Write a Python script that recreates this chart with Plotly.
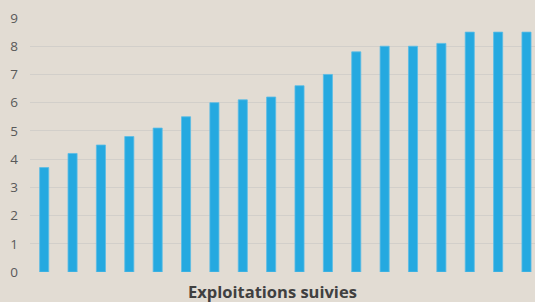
import plotly.graph_objects as go

categories = [f"E{i+1}" for i in range(18)]
values = [3.7, 4.2, 4.5, 4.8, 5.1, 5.5, 6.0, 6.1, 6.2, 6.6, 7.0, 7.8, 8.0, 8.0, 8.1, 8.5, 8.5, 8.5]
y_ticks = list(range(0, 10))
x_title = "Exploitations suivies"

bg = "#e2dcd3"

fig = go.Figure(go.Bar(
    x=categories, y=values,
    width=0.32,
    marker=dict(color="#25a9e0", line=dict(color="#5bbde6", width=0.8)),
    hoverinfo="skip",
))

fig.update_layout(
    width=535, height=302,
    margin=dict(l=30, r=0, t=18, b=30),
    paper_bgcolor=bg, plot_bgcolor=bg,
    showlegend=False,
    bargap=0.68,
    font=dict(family="Open Sans, Segoe UI, sans-serif", color="#595959", size=13),
    xaxis=dict(
        type="category",
        range=[-0.5, 17.3],
        showticklabels=False, showgrid=False, zeroline=False, showline=False, ticks="",
        fixedrange=True,
    ),
    yaxis=dict(
        range=[0, 9], tickvals=y_ticks, ticktext=[str(v) for v in y_ticks],
        showgrid=True, gridcolor="#d2cfca", gridwidth=1.3,
        zeroline=False, showline=False, ticks="",
        ticklabelstandoff=11,
        tickfont=dict(size=13.5, color="#595959"),
        fixedrange=True,
    ),
    annotations=[dict(
        text="<b>" + x_title + "</b>", xref="paper", yref="paper",
        x=(272 - 30) / 505, y=0, yshift=-19, xanchor="center", yanchor="middle",
        showarrow=False, font=dict(size=16.5, color="#404040", family="Open Sans, sans-serif"),
    )],
)

fig.write_html(
    "out.html",
    config={"displayModeBar": False},
    post_script="document.body.style.margin='0';document.body.style.overflow='hidden';document.body.style.background='" + bg + "';",
)
